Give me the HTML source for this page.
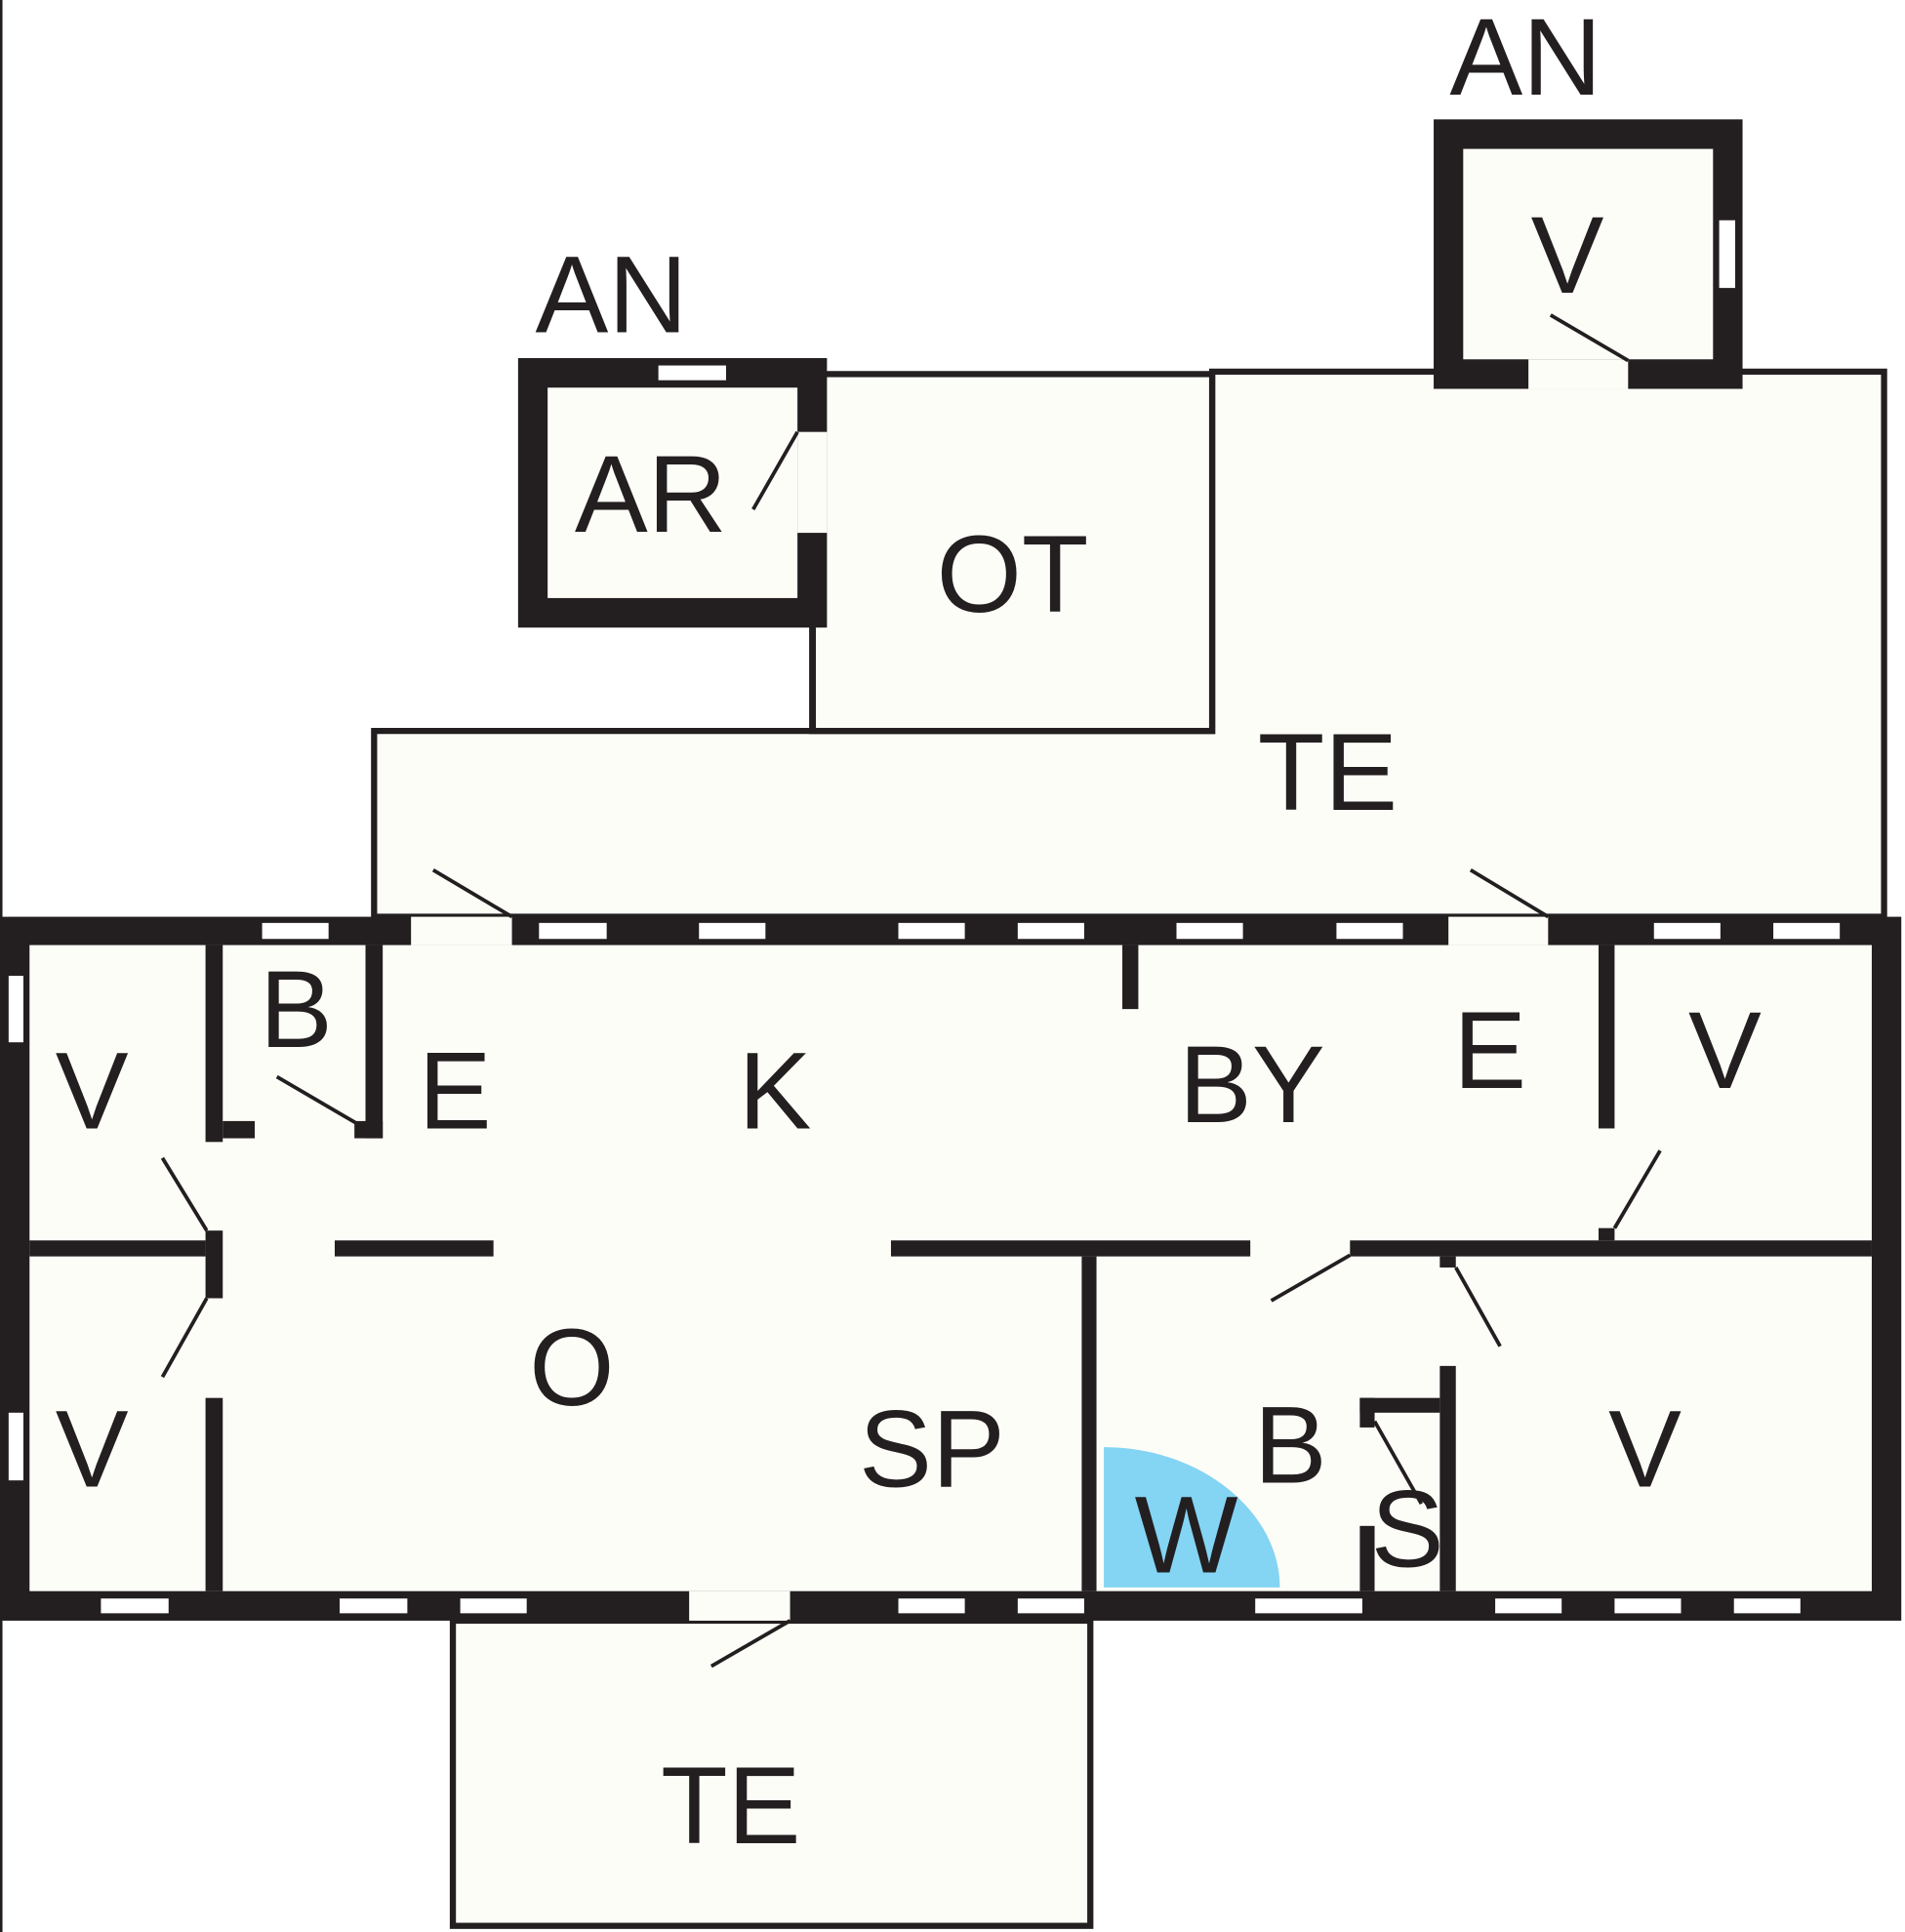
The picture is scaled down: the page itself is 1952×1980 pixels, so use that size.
<!DOCTYPE html>
<html><head><style>
html,body{margin:0;padding:0;background:#fff;}
svg{display:block;}
text{font-family:"Liberation Sans",Arial,sans-serif;font-size:89px;fill:#231f20;}
</style></head><body>
<svg width="1952" height="1980" viewBox="0 0 1548 1570" preserveAspectRatio="none" xmlns="http://www.w3.org/2000/svg">
<rect x="0" y="0" width="1548" height="1570" fill="#fff"/>
<rect x="0" y="0" width="2" height="1570" fill="#231f20"/>
<g fill="#fdfdf8" stroke="#231f20" stroke-width="5">
<polygon points="304,745 304,594 985,594 985,302 1531,302 1531,745"/>
<rect x="660" y="304" width="325" height="290"/>
<rect x="368" y="1317" width="518" height="248"/>
</g>
<rect x="0" y="745" width="1545" height="572" fill="#231f20"/>
<rect x="24" y="768" width="1497" height="525" fill="#fdfdf8"/>
<rect x="421" y="291" width="251" height="219" fill="#231f20"/>
<rect x="445" y="315" width="203" height="171" fill="#fdfdf8"/>
<rect x="648" y="351" width="24" height="82" fill="#fdfdf8"/>
<rect x="1165" y="97" width="251" height="219" fill="#231f20"/>
<rect x="1189" y="121" width="203" height="171" fill="#fdfdf8"/>
<rect x="1242" y="292" width="81" height="24" fill="#fdfdf8"/>
<g fill="#fdfdf8">
<rect x="334" y="745" width="82" height="23"/>
<rect x="1177" y="745" width="81" height="23"/>
<rect x="560" y="1293" width="82" height="24"/>
</g>
<g fill="#fff">
<rect x="213" y="750" width="54" height="13"/><rect x="438" y="750" width="55" height="13"/>
<rect x="568" y="750" width="54" height="13"/><rect x="730" y="750" width="54" height="13"/>
<rect x="827" y="750" width="54" height="13"/><rect x="956" y="750" width="54" height="13"/>
<rect x="1086" y="750" width="54" height="13"/><rect x="1344" y="750" width="54" height="13"/>
<rect x="1441" y="750" width="54" height="13"/>
<rect x="82" y="1299" width="55" height="12"/><rect x="276" y="1299" width="55" height="12"/>
<rect x="374" y="1299" width="54" height="12"/><rect x="730" y="1299" width="54" height="12"/>
<rect x="827" y="1299" width="54" height="12"/><rect x="1020" y="1299" width="87" height="12"/>
<rect x="1215" y="1299" width="54" height="12"/><rect x="1312" y="1299" width="54" height="12"/>
<rect x="1409" y="1299" width="54" height="12"/>
<rect x="7" y="793" width="12" height="54"/><rect x="7" y="1148" width="12" height="55"/>
<rect x="535" y="297" width="55" height="12"/><rect x="1397" y="179" width="13" height="55"/>
</g>
<g fill="#231f20">
<rect x="167" y="768" width="14" height="160"/>
<rect x="181" y="911" width="26" height="14"/>
<rect x="167" y="1000" width="14" height="55"/>
<rect x="167" y="1136" width="14" height="157"/>
<rect x="24" y="1008" width="143" height="13"/>
<rect x="297" y="768" width="14" height="157"/>
<rect x="288" y="911" width="23" height="14"/>
<rect x="272" y="1008" width="129" height="13"/>
<rect x="724" y="1008" width="292" height="13"/>
<rect x="1097" y="1008" width="424" height="13"/>
<rect x="1299" y="768" width="13" height="149"/>
<rect x="1299" y="998" width="13" height="10"/>
<rect x="912" y="768" width="13" height="52"/>
<rect x="879" y="1021" width="12" height="272"/>
<rect x="1170" y="1021" width="13" height="9"/>
<rect x="1170" y="1110" width="13" height="183"/>
<rect x="1105" y="1136" width="65" height="12"/>
<rect x="1105" y="1136" width="12" height="24"/>
<rect x="1105" y="1240" width="12" height="53"/>
<rect x="658" y="510" width="5" height="84"/>
</g>
<path d="M897,1290 L897,1176 C975,1176 1040,1228 1040,1290 Z" fill="#84d4f4"/>
<g stroke="#231f20" stroke-width="3" fill="none">
<line x1="352" y1="707" x2="416" y2="745"/>
<line x1="1195" y1="707" x2="1258" y2="745"/>
<line x1="225" y1="875" x2="290" y2="913"/>
<line x1="132" y1="941" x2="168" y2="1000"/>
<line x1="168" y1="1055" x2="132" y2="1119"/>
<line x1="1349" y1="935" x2="1312" y2="998"/>
<line x1="1097" y1="1020" x2="1033" y2="1057"/>
<line x1="1183" y1="1030" x2="1219" y2="1094"/>
<line x1="1117" y1="1155" x2="1155" y2="1222"/>
<line x1="642" y1="1317" x2="578" y2="1354"/>
<line x1="648" y1="351" x2="612" y2="414"/>
<line x1="1260" y1="256" x2="1323" y2="293"/>
</g>
<text x="435" y="270">AN</text>
<text x="1178" y="77">AN</text>
<text x="467" y="432">AR</text>
<text x="761" y="497">OT</text>
<text x="1022" y="658">TE</text>
<text x="1244" y="238">V</text>
<text x="211" y="851">B</text>
<text x="340" y="917">E</text>
<text x="600" y="917">K</text>
<text x="958" y="912">BY</text>
<text x="1181" y="884">E</text>
<text x="1372" y="884">V</text>
<text x="45" y="917">V</text>
<text x="45" y="1208">V</text>
<text x="430" y="1142">O</text>
<text x="698" y="1208">SP</text>
<text x="1019" y="1205">B</text>
<text x="922" y="1278">W</text>
<text x="1114" y="1273">S</text>
<text x="1307" y="1208">V</text>
<text x="537" y="1498">TE</text>
</svg>
</body></html>
